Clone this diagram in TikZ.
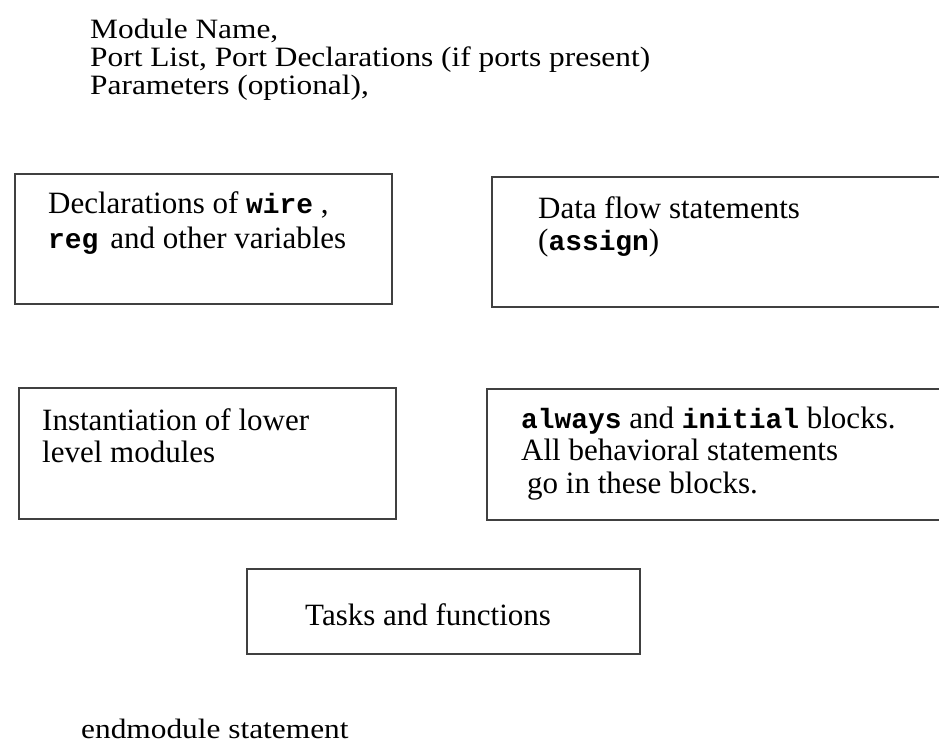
\documentclass[tikz,border=0pt]{standalone}
\usepackage{fontspec}
\setmainfont{Liberation Serif}
\setmonofont{Liberation Mono}[Scale=0.9]
\newfontfamily\widefont{Liberation Serif}[FakeStretch=1.12]
\usetikzlibrary{positioning}

\tikzset{
  blk/.style={draw=black!75, line width=1.6pt, rectangle, inner sep=0pt},
  txt/.style={anchor=base west, align=left, inner sep=0pt},
  boxtxt/.style={txt, font=\fontsize{31}{#1}\selectfont},
  boxtxt/.default=32,
  plain/.style={txt, font=\widefont\fontsize{28}{28}\selectfont},
}
\newcommand{\kw}[1]{\textbf{\texttt{#1}}}

\begin{document}
\begin{tikzpicture}[x=1pt,y=-1pt]
	\useasboundingbox (0,0) rectangle (939,747);
	\clip (0,0) rectangle (939,747);
	\fill[white] (0,0) rectangle (939,747);
	% header
	\node[plain] (head) at (90,94) {Module Name,\\Port List, Port Declarations (if ports present)\\Parameters (optional),};
	% boxes
	\node[blk, minimum width=377pt, minimum height=130pt] (decl) at (203.5,239) {};
	\node[blk, minimum width=460pt, minimum height=130pt] (flow) at (722,242) {};
	\node[blk, minimum width=377pt, minimum height=131pt] (inst) at (207.5,453.5) {};
	\node[blk, minimum width=460pt, minimum height=131pt] (behav) at (717,454.5) {};
	\node[blk, minimum width=393pt, minimum height=85pt] (task) at (443.5,611.5) {};
	% box texts
	\node[boxtxt=35] (decltxt) at (48,248) {Declarations of \kw{wire} ,\\\kw{reg}\hspace{12pt}and other variables};
	\node[boxtxt] (flowtxt) at (538,250) {Data flow statements\\(\kw{assign})};
	\node[boxtxt] (insttxt) at (42,462) {Instantiation of lower\\level modules};
	\node[boxtxt=32.5] (behavtxt) at (521,493) {\kw{always} and \kw{initial} blocks.\\All behavioral statements\\\hspace{6pt}go in these blocks.};
	\node[boxtxt] (tasktxt) at (305,625) {Tasks and functions};
	\node[plain] (endtxt) at (81,738) {endmodule statement};
\end{tikzpicture}
\end{document}
